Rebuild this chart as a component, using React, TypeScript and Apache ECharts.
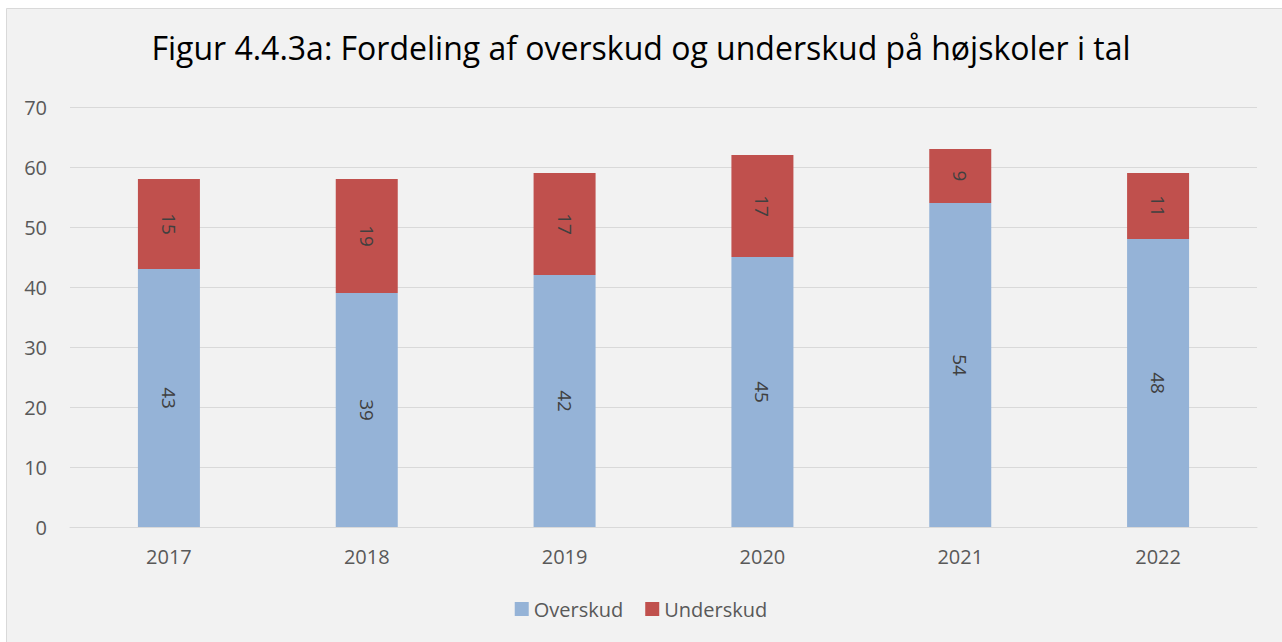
import React, { useEffect, useRef } from "react";
import * as echarts from "echarts";

const title = "Figur 4.4.3a: Fordeling af overskud og underskud på højskoler i tal";
const years = ["2017", "2018", "2019", "2020", "2021", "2022"];
const overskud = [43, 39, 42, 45, 54, 48];
const underskud = [15, 19, 17, 17, 9, 11];
const yTicks = { min: 0, max: 70, interval: 10 };

const FONT = "'Open Sans', 'Noto Sans', sans-serif";

export default function App() {
  const ref = useRef<HTMLDivElement>(null);
  useEffect(() => {
    if (!ref.current) return;
    const chart = echarts.init(ref.current, undefined, { renderer: "svg" });
    const labelCfg = {
      show: true,
      position: "inside",
      rotate: -90,
      color: "#404040",
      fontSize: 19,
      fontFamily: FONT,
    };
    chart.setOption({
      animation: false,
      backgroundColor: "#ffffff",
      textStyle: { fontFamily: FONT },
      graphic: [
        {
          type: "rect",
          shape: { x: 6.5, y: 8.5, width: 1290, height: 650 },
          style: { fill: "#f2f2f2", stroke: "#d9d9d9", lineWidth: 1 },
          z: -10,
          silent: true,
        },
      ],
      title: {
        text: title,
        left: "center",
        top: 26,
        textStyle: { fontSize: 32, fontWeight: "normal", color: "#000000", fontFamily: FONT },
      },
      legend: {
        bottom: 18,
        left: "center",
        itemWidth: 14,
        itemHeight: 14,
        itemGap: 22,
        icon: "rect",
        textStyle: { fontSize: 20, color: "#595959", fontFamily: FONT },
        data: ["Overskud", "Underskud"],
      },
      grid: { left: 70, right: 25, top: 107, bottom: 115, containLabel: false },
      xAxis: {
        type: "category",
        data: years,
        axisLine: { show: true, lineStyle: { color: "#d9d9d9", width: 1 } },
        axisTick: { show: false },
        axisLabel: { color: "#595959", fontSize: 20, margin: 19, fontFamily: FONT },
      },
      yAxis: {
        type: "value",
        min: yTicks.min,
        max: yTicks.max,
        interval: yTicks.interval,
        axisLine: { show: false },
        axisTick: { show: false },
        axisLabel: { color: "#595959", fontSize: 20, margin: 23, fontFamily: FONT },
        splitLine: { lineStyle: { color: "#d9d9d9", width: 1 } },
      },
      series: [
        {
          name: "Overskud",
          type: "bar",
          stack: "total",
          data: overskud,
          barWidth: 62,
          itemStyle: { color: "#95b3d7" },
          label: labelCfg,
        },
        {
          name: "Underskud",
          type: "bar",
          stack: "total",
          data: underskud,
          barWidth: 62,
          itemStyle: { color: "#c0504d" },
          label: labelCfg,
        },
      ],
    });
    return () => chart.dispose();
  }, []);
  return (
    <div
      ref={ref}
      style={{ position: "fixed", left: 0, top: 0, width: 1282, height: 642 }}
    />
  );
}
